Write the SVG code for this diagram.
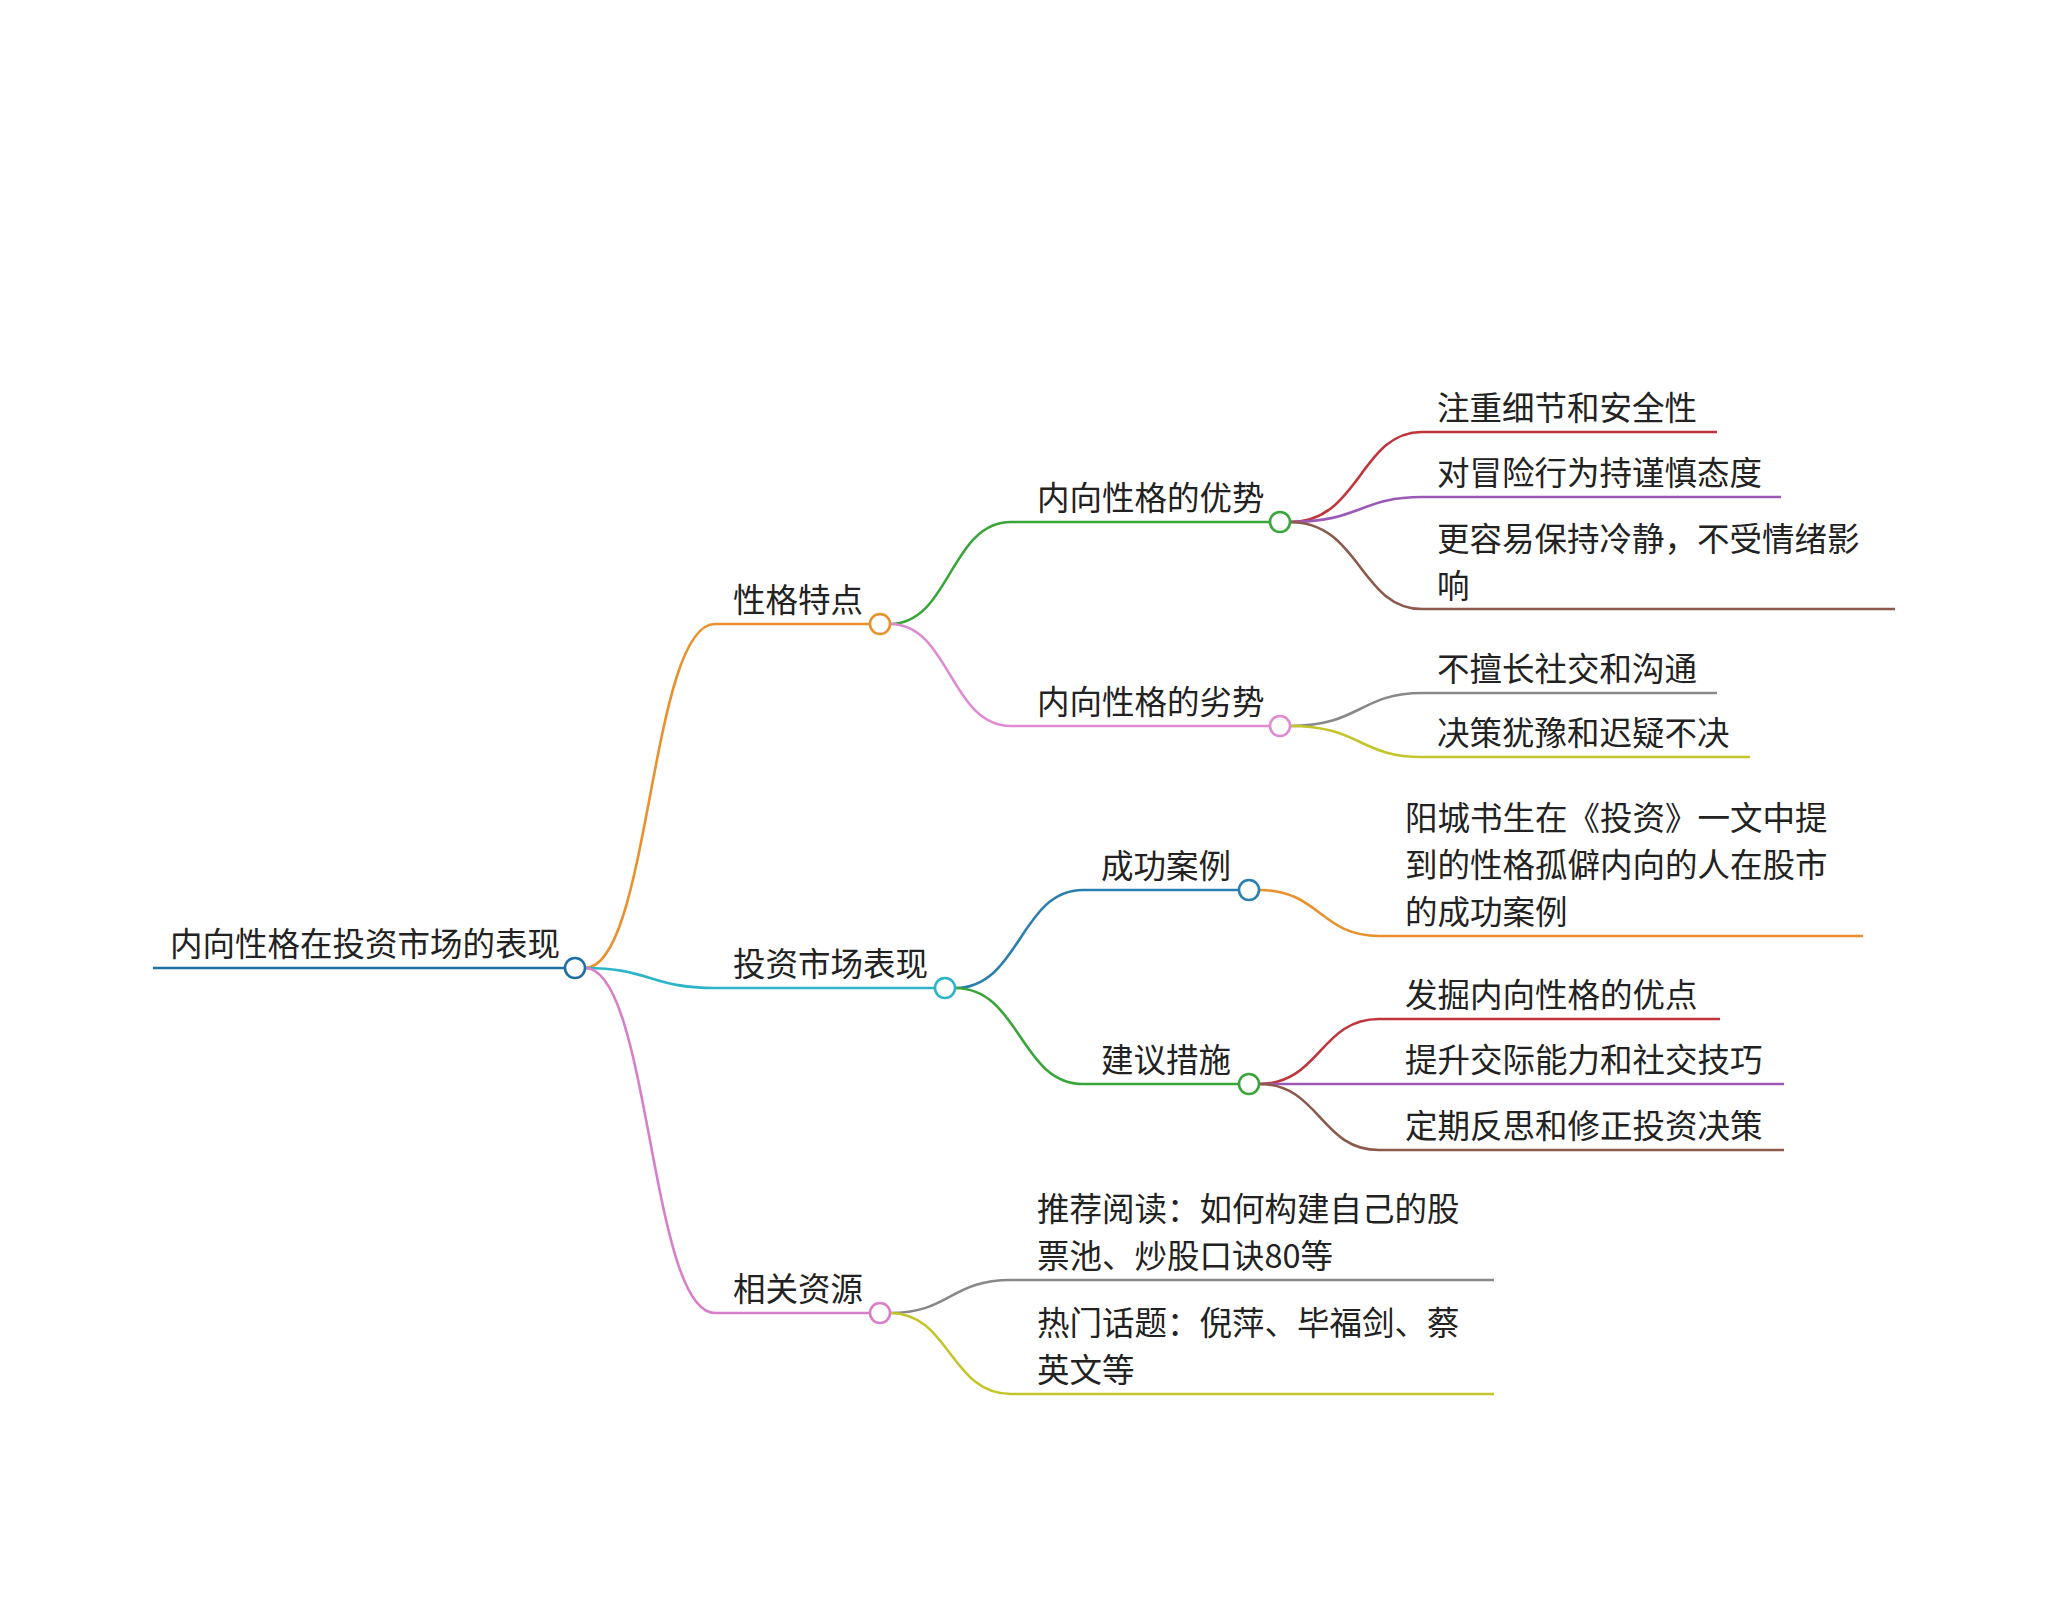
<svg xmlns="http://www.w3.org/2000/svg" width="2046" height="1610" viewBox="0 0 2046 1610">
<style>
text{font-family:"Noto Sans CJK SC","Noto Sans",sans-serif;font-size:32.5px;fill:#222}
path{fill:none;stroke-width:2.6}
circle{fill:#fff;stroke-width:2.6}
</style>
<rect width="2046" height="1610" fill="#fff"/>
<g id="connectors">
<path d="M153 968H575" stroke="#1f6fa3"/>
<path d="M585 968C650 968 650 624 715 624H880" stroke="#e8912d"/>
<path d="M585 968C650 968 650 988 715 988H945" stroke="#2cb5c8"/>
<path d="M585 968C650 968 650 1313 715 1313H880" stroke="#d77fc9"/>
<path d="M890 624C950 624 950 522 1011 522H1280" stroke="#3aa63a"/>
<path d="M890 624C950 624 950 726 1011 726H1280" stroke="#e08ad2"/>
<path d="M1290 522C1360 522 1360 432 1422 432H1717" stroke="#c0343c"/>
<path d="M1290 522C1360 522 1360 497 1422 497H1781" stroke="#9b59b6"/>
<path d="M1290 522C1360 522 1360 609 1422 609H1895" stroke="#8b5a4a"/>
<path d="M1290 726C1360 726 1360 693 1422 693H1717" stroke="#888"/>
<path d="M1290 726C1360 726 1360 757 1422 757H1750" stroke="#c3c52a"/>
<path d="M955 988C1020 988 1020 890 1083 890H1249" stroke="#2a7fb0"/>
<path d="M955 988C1020 988 1020 1084 1083 1084H1249" stroke="#3aa63a"/>
<path d="M1259 890C1320 890 1320 936 1379 936H1863" stroke="#e8912d"/>
<path d="M1259 1084C1320 1084 1320 1019 1379 1019H1720" stroke="#c0343c"/>
<path d="M1259 1084H1784" stroke="#9b59b6"/>
<path d="M1259 1084C1320 1084 1320 1150 1379 1150H1784" stroke="#8b5a4a"/>
<path d="M890 1313C950 1313 950 1280 1011 1280H1494" stroke="#888"/>
<path d="M890 1313C950 1313 950 1394 1011 1394H1494" stroke="#c3c52a"/>
</g>
<g id="root"><circle cx="575" cy="968" r="10" stroke="#1f6fa3"/><text x="170" y="956">内向性格在投资市场的表现</text></g>
<g id="n1"><circle cx="880" cy="624" r="10" stroke="#e8912d"/><text x="733" y="612">性格特点</text></g>
<g id="n2"><circle cx="945" cy="988" r="10" stroke="#2cb5c8"/><text x="733" y="976">投资市场表现</text></g>
<g id="n3"><circle cx="880" cy="1313" r="10" stroke="#d77fc9"/><text x="733" y="1301">相关资源</text></g>
<g id="n11"><circle cx="1280" cy="522" r="10" stroke="#3aa63a"/><text x="1037" y="510">内向性格的优势</text></g>
<g id="n12"><circle cx="1280" cy="726" r="10" stroke="#e08ad2"/><text x="1037" y="714">内向性格的劣势</text></g>
<g id="l1"><text x="1437" y="420">注重细节和安全性</text></g>
<g id="l2"><text x="1437" y="485">对冒险行为持谨慎态度</text></g>
<g id="l3"><text x="1437" y="551">更容易保持冷静，不受情绪影</text><text x="1437" y="598">响</text></g>
<g id="l4"><text x="1437" y="681">不擅长社交和沟通</text></g>
<g id="l5"><text x="1437" y="745">决策犹豫和迟疑不决</text></g>
<g id="n21"><circle cx="1249" cy="890" r="10" stroke="#2a7fb0"/><text x="1101" y="878">成功案例</text></g>
<g id="n22"><circle cx="1249" cy="1084" r="10" stroke="#3aa63a"/><text x="1101" y="1072">建议措施</text></g>
<g id="l6"><text x="1405" y="830">阳城书生在《投资》一文中提</text><text x="1405" y="877">到的性格孤僻内向的人在股市</text><text x="1405" y="924">的成功案例</text></g>
<g id="l7"><text x="1405" y="1007">发掘内向性格的优点</text></g>
<g id="l8"><text x="1405" y="1072">提升交际能力和社交技巧</text></g>
<g id="l9"><text x="1405" y="1138">定期反思和修正投资决策</text></g>
<g id="l10"><text x="1037" y="1221">推荐阅读：如何构建自己的股</text><text x="1037" y="1268">票池、炒股口诀80等</text></g>
<g id="l11"><text x="1037" y="1335">热门话题：倪萍、毕福剑、蔡</text><text x="1037" y="1382">英文等</text></g>
</svg>
